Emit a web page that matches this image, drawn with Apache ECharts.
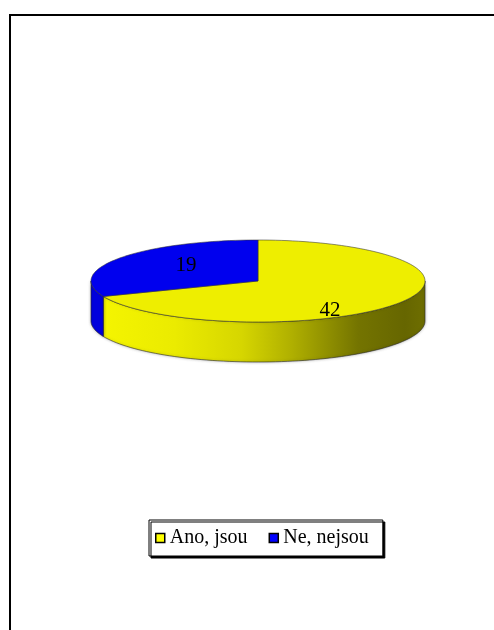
<!DOCTYPE html>
<html>
<head>
<meta charset="utf-8">
<script src="https://cdn.jsdelivr.net/npm/echarts@6/dist/echarts.min.js"></script>
<style>
  html, body { margin: 0; padding: 0; background: #fff; }
  #chart { width: 494px; height: 630px; }
</style>
</head>
<body>
<div id="chart"></div>
<script>
// Answers and counts
const categories = ['Ano, jsou', 'Ne, nejsou'];
const values = [42, 19];

// Colours per answer: top face, legend swatch
const topColors = ['#eeee00', '#0000ee'];
const legendColors = ['#ffff00', '#0000ff'];

// Layout of the tilted pie (pixels)
const CX = 258, CY = 281, RX = 167, RY = 41, DEPTH = 40;
const START_ANGLE = 90; // degrees, clockwise from 12 o'clock

const total = values.reduce((a, b) => a + b, 0);

function pt(deg, dy) {
  const r = deg * Math.PI / 180;
  return [CX + RX * Math.cos(r), CY - RY * Math.sin(r) + (dy || 0)];
}

function arc(from, to, dy) {
  const pts = [];
  const n = Math.max(2, Math.ceil(Math.abs(to - from) / 2));
  for (let i = 0; i <= n; i++) pts.push(pt(from + (to - from) * i / n, dy));
  return pts;
}

const wallFills = [
  new echarts.graphic.LinearGradient(CX - RX, 0, CX + RX, 0, [
    { offset: 0.0, color: '#f6f600' },
    { offset: 0.25, color: '#ebeb00' },
    { offset: 0.45, color: '#d6d600' },
    { offset: 0.6, color: '#b0b000' },
    { offset: 0.8, color: '#747400' },
    { offset: 0.94, color: '#666600' },
    { offset: 1.0, color: '#6e6e00' }
  ], true),
  '#0000dd'
];

function sliceRenderer(idx) {
  return function (params, api) {
    const v = api.value(0);
    let before = 0;
    for (let i = 0; i < idx; i++) before += values[i];
    const a1 = START_ANGLE - before / total * 360;
    const a2 = a1 - v / total * 360;
    const children = [];

    // visible front walls (lower half of the ellipse)
    for (let k = -2; k <= 2; k++) {
      const lo = Math.max(a2, -180 + 360 * k);
      const hi = Math.min(a1, 360 * k);
      if (hi > lo) {
        const pts = arc(lo, hi, 0).concat(arc(hi, lo, DEPTH));
        children.push({
          type: 'polygon',
          shape: { points: pts },
          style: {
            fill: wallFills[idx],
            stroke: 'rgba(40,40,40,0.75)',
            lineWidth: 0.8,
            shadowBlur: 3,
            shadowColor: 'rgba(0,0,0,0.3)'
          }
        });
      }
    }

    // top face
    const topPts = [[CX, CY]].concat(arc(a1, a2, 0));
    children.push({
      type: 'polygon',
      shape: { points: topPts },
      style: { fill: topColors[idx], stroke: 'rgba(50,50,50,0.7)', lineWidth: 0.8 }
    });

    // value label
    const mid = (a1 + a2) / 2 * Math.PI / 180;
    children.push({
      type: 'text',
      style: {
        text: String(v),
        x: CX + 0.52 * RX * Math.cos(mid),
        y: CY + 7 - 0.52 * RY * 1.9 * Math.sin(mid),
        fill: '#000',
        font: '21px "Liberation Serif", "Times New Roman", serif',
        align: 'center',
        verticalAlign: 'middle'
      }
    });

    return { type: 'group', children: children };
  };
}

const series = categories.map((name, i) => ({
  name: name,
  type: 'custom',
  coordinateSystem: 'none',
  silent: true,
  itemStyle: { color: legendColors[i] },
  data: [[values[i]]],
  renderItem: sliceRenderer(i)
}));

const chart = echarts.init(document.getElementById('chart'), null, { renderer: 'canvas' });
chart.setOption({
  backgroundColor: '#fff',
  animation: false,
  legend: {
    data: categories.map((name, i) => ({
      name: name,
      icon: 'rect',
      itemStyle: { color: legendColors[i], borderColor: '#000', borderWidth: 1.5 }
    })),
    left: 149,
    top: 520,
    orient: 'horizontal',
    itemWidth: 9,
    itemHeight: 9,
    itemGap: 21,
    padding: [8, 14, 8, 6],
    backgroundColor: '#fff',
    borderColor: '#000',
    borderWidth: 1,
    shadowColor: '#000',
    shadowBlur: 0,
    shadowOffsetX: 2,
    shadowOffsetY: 2,
    selectedMode: false,
    textStyle: {
      color: '#000',
      fontSize: 20,
      lineHeight: 20,
      fontFamily: '"Liberation Serif", "Times New Roman", serif'
    }
  },
  graphic: [{
    type: 'polyline',
    shape: { points: [[10, 630], [10, 15], [494, 15]] },
    style: { stroke: '#000', lineWidth: 2, fill: null },
    silent: true
  }],
  series: series
});
</script>
</body>
</html>
